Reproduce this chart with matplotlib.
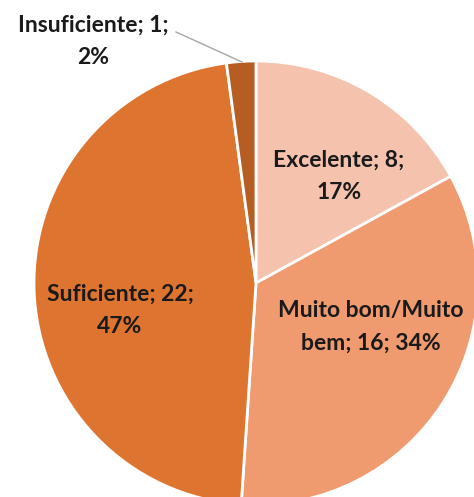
import matplotlib
matplotlib.use("Agg")
import matplotlib.pyplot as plt

categories = ["Excelente", "Muito bom/Muito bem", "Suficiente", "Insuficiente"]
counts = [8, 16, 22, 1]
percents = [17, 34, 47, 2]
label_texts = ["Excelente; 8;\n17%", "Muito bom/Muito\nbem; 16; 34%",
               "Suficiente; 22;\n47%", "Insuficiente; 1;\n2%"]
colors = ["#F4C2AD", "#F09A6F", "#DD7430", "#B65D24"]

W, H = 474, 497
fig = plt.figure(figsize=(W / 100, H / 100), dpi=100)
ax = fig.add_axes([0, 0, 1, 1])
ax.set_xlim(0, W)
ax.set_ylim(0, H)
ax.set_aspect("equal")
ax.axis("off")

cx, cy, r = 256, H - 283, 222
ax.pie(counts, colors=colors, startangle=90, counterclock=False,
       center=(cx, cy), radius=r, frame=True,
       wedgeprops=dict(edgecolor="white", linewidth=2))
ax.set_xlim(0, W)
ax.set_ylim(0, H)
ax.axis("off")

font = dict(family=["Lato", "DejaVu Sans"], fontsize=16.5, fontweight="bold",
            color="#1a1a1a", ha="center", va="center", linespacing=1.65)
label_pos = [(339, 176), (371, 327), (120, 310), (93, 41)]
for txt, (x, y) in zip(label_texts, label_pos):
    ax.text(x, H - y, txt, **font)

# leader line for the small slice
ax.plot([176, 242], [H - 32, H - 62], color="#a6a6a6", linewidth=1)

fig.savefig("out.png", dpi=100)
